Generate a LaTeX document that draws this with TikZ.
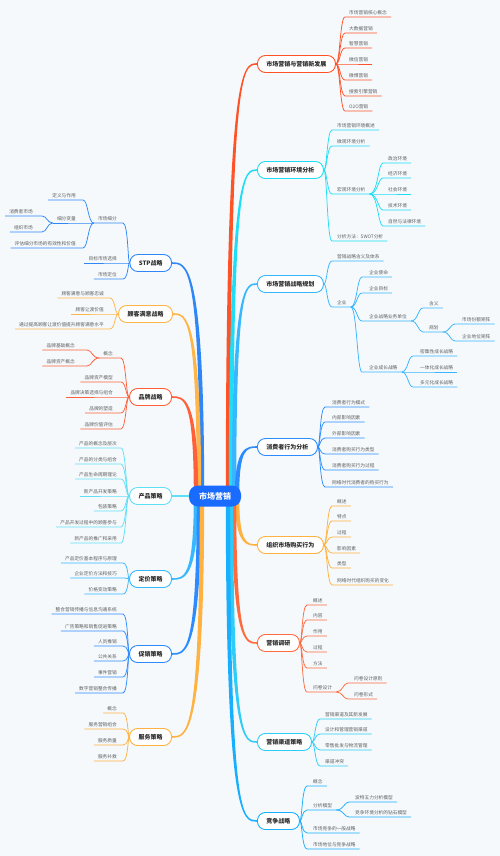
\documentclass[tikz,border=0pt]{standalone}
\usepackage{fontspec}
\setmainfont{Noto Sans CJK SC}
\definecolor{bgc}{HTML}{F5F9FC}
\definecolor{leafgray}{HTML}{5E5E5E}
\definecolor{maintext}{HTML}{2B2B2B}
\definecolor{cRoot}{HTML}{1A6BFF}
\definecolor{cA}{HTML}{FF5227}
\definecolor{cB}{HTML}{1FDDF5}
\definecolor{cC}{HTML}{38B6FF}
\definecolor{cD}{HTML}{2A8CFF}
\definecolor{cE}{HTML}{FFB23F}
\definecolor{cF}{HTML}{FF6A3F}
\definecolor{cG}{HTML}{2ECDF7}
\definecolor{cH}{HTML}{18AFFF}
\definecolor{cL1}{HTML}{2F86F6}
\definecolor{cL2}{HTML}{FFB547}
\definecolor{cL3}{HTML}{FF6039}
\definecolor{cL4}{HTML}{5FE0F7}
\definecolor{cL5}{HTML}{35B8FF}
\definecolor{cL6}{HTML}{2C8BFF}
\definecolor{cL7}{HTML}{FFB23F}
\tikzset{
  leaf/.style={font=\fontsize{4.7}{5.5}\selectfont, text=leafgray, inner xsep=4pt, inner ysep=1.8pt},
  lk/.style={draw=#1, line width=0.75pt},
  mainbox/.style={draw=#1, fill=white, line width=0.9pt, rounded corners=8pt, font=\fontsize{6}{7}\selectfont\bfseries, text=maintext, minimum height=17pt, inner xsep=9pt, inner ysep=0pt},
  rootbox/.style={fill=cRoot, rounded corners=9pt, minimum height=21pt, minimum width=52pt, text=white, font=\fontsize{8}{9}\selectfont\bfseries}
}
% right leaf: color, name, parent point, py, sx, uy, textstart, text
\newcommand\lfR[8]{%
  \node[leaf, anchor=south west] (#2) at (#7-4,#6) {#8};
  \draw[lk=#1] (#3) .. controls (#5,#4) and (#5,#6) .. (#5+5,#6) -- (#2.south east);}
% left leaf: color, name, parent point, py, sx, uy, textend, text
\newcommand\lfL[8]{%
  \node[leaf, anchor=south east] (#2) at (#7+4,#6) {#8};
  \draw[lk=#1] (#3) .. controls (#5,#4) and (#5,#6) .. (#5-5,#6) -- (#2.south west);}
% tapered branch: color, x0, y0, x1, y1, a, b
\newcommand\br[7]{%
  \fill[#1] (#2+#6,#3) .. controls (#2+#6,#5+#7) and ({(#2+#4)/2},#5+#7) .. (#4,#5+#7)
    -- (#4,#5-#7) .. controls ({(#2+#4)/2},#5-#7) and (#2-#6,#5-#7) .. (#2-#6,#3) -- cycle;}
\begin{document}
\begin{tikzpicture}[x=1pt,y=-1pt]
\useasboundingbox (0,0) rectangle (500,856);
\fill[bgc] (0,0) rectangle (500,856);

% main branches
\br{cA}{228}{496}{257}{64}{-2.2}{-0.8}
\br{cB}{231}{496}{257}{170}{-2.2}{-0.8}
\br{cC}{234}{496}{257}{284}{-2.2}{-0.8}
\br{cD}{237}{496}{257}{447}{-2.2}{-0.8}
\br{cE}{237}{496}{257}{545}{-2.2}{0.8}
\br{cF}{234}{496}{257}{643}{-2.2}{0.8}
\br{cG}{231}{496}{257}{742}{-2.2}{0.8}
\br{cH}{228}{496}{257}{821}{-2.2}{0.8}
\br{cL1}{202}{496}{172}{263}{2.2}{-0.8}
\br{cL2}{199}{496}{173}{314}{2.2}{-0.8}
\br{cL3}{196}{496}{172}{397}{2.2}{-0.8}
\br{cL5}{196}{496}{172}{579}{2.2}{0.8}
\br{cL6}{199}{496}{172}{654}{2.2}{0.8}
\br{cL7}{202}{496}{172}{737}{2.2}{0.8}

\node[rootbox] (root) at (215,496) {市场营销};

% right main nodes
\node[mainbox=cA, anchor=west] (r1) at (257,64) {市场营销与营销新发展};
\node[mainbox=cB, anchor=west] (r2) at (257,170) {市场营销环境分析};
\node[mainbox=cC, anchor=west] (r3) at (257,284) {市场营销战略规划};
\node[mainbox=cD, anchor=west] (r4) at (257,447) {消费者行为分析};
\node[mainbox=cE, anchor=west] (r5) at (257,545) {组织市场购买行为};
\node[mainbox=cF, anchor=west] (r6) at (257,643) {营销调研};
\node[mainbox=cG, anchor=west] (r7) at (257,742) {营销渠道策略};
\node[mainbox=cH, anchor=west] (r8) at (257,821) {竞争战略};
% left main nodes
\node[mainbox=cL1, anchor=east] (l1) at (172,263) {STP战略};
\node[mainbox=cL2, anchor=east] (l2) at (173,314) {顾客满意战略};
\node[mainbox=cL3, anchor=east] (l3) at (172,397) {品牌战略};
\node[mainbox=cL4, anchor=east] (l4) at (172,496) {产品策略};
\node[mainbox=cL5, anchor=east] (l5) at (172,579) {定价策略};
\node[mainbox=cL6, anchor=east] (l6) at (172,654) {促销策略};
\node[mainbox=cL7, anchor=east] (l7) at (172,737) {服务策略};
\draw[cL4, line width=2.4pt] (root.west) -- (l4.east);

% r1
\lfR{cA}{r1a}{r1.east}{64}{340}{17}{349}{市场营销核心概念}
\lfR{cA}{r1b}{r1.east}{64}{340}{33}{349}{大数据营销}
\lfR{cA}{r1c}{r1.east}{64}{340}{48}{349}{智慧营销}
\lfR{cA}{r1d}{r1.east}{64}{340}{64}{349}{微信营销}
\lfR{cA}{r1e}{r1.east}{64}{340}{80}{349}{微博营销}
\lfR{cA}{r1f}{r1.east}{64}{340}{96}{349}{搜索引擎营销}
\lfR{cA}{r1g}{r1.east}{64}{340}{111}{349}{O2O营销}
% r2
\lfR{cB}{r2a}{r2.east}{170}{327}{130}{337}{市场营销环境概述}
\lfR{cB}{r2b}{r2.east}{170}{327}{146}{337}{微观环境分析}
\lfR{cB}{r2c}{r2.east}{170}{327}{194}{337}{宏观环境分析}
\lfR{cB}{r2d}{r2.east}{170}{327}{241}{337}{分析方法：SWOT分析}
\lfR{cB}{r2c1}{r2c.south east}{194}{378}{163}{388}{政治环境}
\lfR{cB}{r2c2}{r2c.south east}{194}{378}{178}{388}{经济环境}
\lfR{cB}{r2c3}{r2c.south east}{194}{378}{194}{388}{社会环境}
\lfR{cB}{r2c4}{r2c.south east}{194}{378}{210}{388}{技术环境}
\lfR{cB}{r2c5}{r2c.south east}{194}{378}{226}{388}{自然与法律环境}
% r3
\lfR{cC}{r3a}{r3.east}{284}{327}{261}{337}{营销战略含义及体系}
\lfR{cC}{r3b}{r3.east}{284}{327}{307}{337}{企业}
\lfR{cC}{r3b1}{r3b.south east}{307}{357}{277}{369}{企业使命}
\lfR{cC}{r3b2}{r3b.south east}{307}{357}{293}{369}{企业目标}
\lfR{cC}{r3b3}{r3b.south east}{307}{357}{321}{369}{企业战略业务单位}
\lfR{cC}{r3b4}{r3b.south east}{307}{357}{372}{369}{企业成长战略}
\lfR{cC}{r3b3a}{r3b3.south east}{321}{418}{308}{429}{含义}
\lfR{cC}{r3b3b}{r3b3.south east}{321}{418}{332}{429}{规划}
\lfR{cC}{r3b3b1}{r3b3b.south east}{332}{450}{324}{462}{市场份额矩阵}
\lfR{cC}{r3b3b2}{r3b3b.south east}{332}{450}{341}{462}{企业地位矩阵}
\lfR{cC}{r3b4a}{r3b4.south east}{372}{408}{356}{420}{密集性成长战略}
\lfR{cC}{r3b4b}{r3b4.south east}{372}{408}{372}{420}{一体化成长战略}
\lfR{cC}{r3b4c}{r3b4.south east}{372}{408}{387}{420}{多元化成长战略}
% r4
\lfR{cD}{r4a}{r4.east}{447}{320}{407}{332}{消费者行为模式}
\lfR{cD}{r4b}{r4.east}{447}{320}{422}{332}{内部影响因素}
\lfR{cD}{r4c}{r4.east}{447}{320}{438}{332}{外部影响因素}
\lfR{cD}{r4d}{r4.east}{447}{320}{454}{332}{消费者购买行为类型}
\lfR{cD}{r4e}{r4.east}{447}{320}{470}{332}{消费者购买行为过程}
\lfR{cD}{r4f}{r4.east}{447}{320}{487}{332}{网络时代消费者的购买行为}
% r5
\lfR{cE}{r5a}{r5.east}{545}{327}{506}{337}{概述}
\lfR{cE}{r5b}{r5.east}{545}{327}{521}{337}{特点}
\lfR{cE}{r5c}{r5.east}{545}{327}{537}{337}{过程}
\lfR{cE}{r5d}{r5.east}{545}{327}{553}{337}{影响因素}
\lfR{cE}{r5e}{r5.east}{545}{327}{568}{337}{类型}
\lfR{cE}{r5f}{r5.east}{545}{327}{585}{337}{网络时代组织购买的变化}
% r6
\lfR{cF}{r6a}{r6.east}{643}{302}{605}{313}{概述}
\lfR{cF}{r6b}{r6.east}{643}{302}{620}{313}{内容}
\lfR{cF}{r6c}{r6.east}{643}{302}{636}{313}{作用}
\lfR{cF}{r6d}{r6.east}{643}{302}{652}{313}{过程}
\lfR{cF}{r6e}{r6.east}{643}{302}{668}{313}{方法}
\lfR{cF}{r6f}{r6.east}{643}{302}{692}{313}{问卷设计}
\lfR{cF}{r6f1}{r6f.south east}{692}{343}{683}{354}{问卷设计原则}
\lfR{cF}{r6f2}{r6f.south east}{692}{343}{699}{354}{问卷形式}
% r7
\lfR{cG}{r7a}{r7.east}{742}{315}{719}{325}{营销渠道及其新发展}
\lfR{cG}{r7b}{r7.east}{742}{315}{734}{325}{设计和管理营销渠道}
\lfR{cG}{r7c}{r7.east}{742}{315}{750}{325}{零售批发与物流管理}
\lfR{cG}{r7d}{r7.east}{742}{315}{766}{325}{渠道冲突}
% r8
\lfR{cH}{r8a}{r8.east}{821}{302}{786}{313}{概念}
\lfR{cH}{r8b}{r8.east}{821}{302}{810}{313}{分析模型}
\lfR{cH}{r8c}{r8.east}{821}{302}{833}{313}{市场竞争的一般战略}
\lfR{cH}{r8d}{r8.east}{821}{302}{849}{313}{市场地位与竞争战略}
\lfR{cH}{r8b1}{r8b.south east}{810}{344}{802}{355}{波特五力分析模型}
\lfR{cH}{r8b2}{r8b.south east}{810}{344}{817}{355}{竞争环境分析的钻石模型}

% l1
\lfL{cL1}{l1a}{l1.west}{263}{128}{223}{117}{市场细分}
\lfL{cL1}{l1b}{l1.west}{263}{128}{263}{117}{目标市场选择}
\lfL{cL1}{l1c}{l1.west}{263}{128}{279}{117}{市场定位}
\lfL{cL1}{l1a1}{l1a.south west}{223}{88}{200}{76}{定义与作用}
\lfL{cL1}{l1a2}{l1a.south west}{223}{88}{223}{76}{细分变量}
\lfL{cL1}{l1a3}{l1a.south west}{223}{88}{248}{76}{评估细分市场的有效性和价值}
\lfL{cL1}{l1a2a}{l1a2.south west}{223}{47}{216}{33}{消费者市场}
\lfL{cL1}{l1a2b}{l1a2.south west}{223}{47}{232}{33}{组织市场}
% l2
\lfL{cL2}{l2a}{l2.west}{314}{115}{298}{104}{顾客满意与顾客忠诚}
\lfL{cL2}{l2b}{l2.west}{314}{115}{314}{104}{顾客让渡价值}
\lfL{cL2}{l2c}{l2.west}{314}{115}{329}{104}{通过提高顾客让渡价值提升顾客满意水平}
% l3
\lfL{cL3}{l3a}{l3.west}{397}{126}{358}{113}{概念}
\lfL{cL3}{l3b}{l3.west}{397}{126}{382}{113}{品牌资产模型}
\lfL{cL3}{l3c}{l3.west}{397}{126}{397}{113}{品牌决策选择与组合}
\lfL{cL3}{l3d}{l3.west}{397}{126}{413}{113}{品牌的塑造}
\lfL{cL3}{l3e}{l3.west}{397}{126}{429}{113}{品牌价值评估}
\lfL{cL3}{l3a1}{l3a.south west}{358}{92}{350}{75}{品牌基础概念}
\lfL{cL3}{l3a2}{l3a.south west}{358}{92}{366}{75}{品牌资产概念}
% l4
\lfL{cL4}{l4a}{l4.west}{496}{126}{448}{117}{产品的概念及层次}
\lfL{cL4}{l4b}{l4.west}{496}{126}{464}{117}{产品的分类与组合}
\lfL{cL4}{l4c}{l4.west}{496}{126}{479}{117}{产品生命周期理论}
\lfL{cL4}{l4d}{l4.west}{496}{126}{496}{117}{新产品开发策略}
\lfL{cL4}{l4e}{l4.west}{496}{126}{511}{117}{包装策略}
\lfL{cL4}{l4f}{l4.west}{496}{126}{527}{117}{产品开发过程中的顾客参与}
\lfL{cL4}{l4g}{l4.west}{496}{126}{543}{117}{新产品的推广和采用}
% l5
\lfL{cL5}{l5a}{l5.west}{579}{128}{563}{117}{产品定价基本程序与原理}
\lfL{cL5}{l5b}{l5.west}{579}{128}{578}{117}{企业定价方法和技巧}
\lfL{cL5}{l5c}{l5.west}{579}{128}{594}{117}{价格变动策略}
% l6
\lfL{cL6}{l6a}{l6.west}{654}{128}{614}{117}{整合营销传播与信息沟通系统}
\lfL{cL6}{l6b}{l6.west}{654}{128}{631}{117}{广告策略和销售促进策略}
\lfL{cL6}{l6c}{l6.west}{654}{128}{646}{117}{人员推销}
\lfL{cL6}{l6d}{l6.west}{654}{128}{661}{117}{公共关系}
\lfL{cL6}{l6e}{l6.west}{654}{128}{677}{117}{事件营销}
\lfL{cL6}{l6f}{l6.west}{654}{128}{693}{117}{数字营销整合传播}
% l7
\lfL{cL7}{l7a}{l7.west}{737}{128}{713}{117}{概念}
\lfL{cL7}{l7b}{l7.west}{737}{128}{729}{117}{服务营销组合}
\lfL{cL7}{l7c}{l7.west}{737}{128}{745}{117}{服务质量}
\lfL{cL7}{l7d}{l7.west}{737}{128}{761}{117}{服务补救}
\end{tikzpicture}
\end{document}
